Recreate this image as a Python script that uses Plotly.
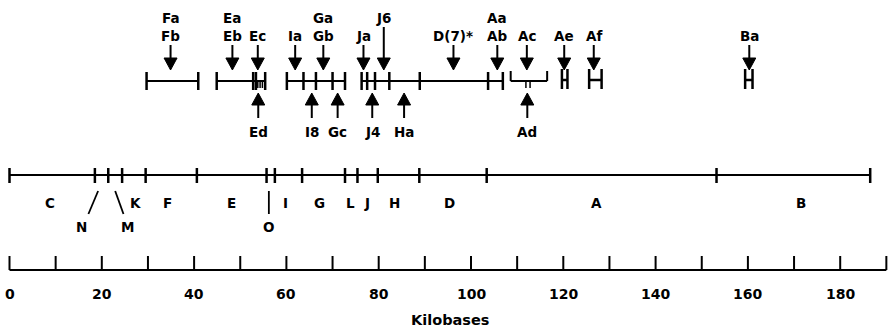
import plotly.graph_objects as go

# ---------------- data (positions in kilobases) ----------------
scale_ticks = list(range(0, 200, 10))
scale_label_values = [0, 20, 40, 60, 80, 100, 120, 140, 160, 180]
scale_end = 190

map_cuts = [0, 18.5, 21.4, 24.4, 29.5, 40.6, 55.7, 57.5, 63.4, 72.7,
            75.4, 79.8, 88.8, 103.4, 153.2, 186.5]

fragment_names = ["C", "K", "F", "E", "I", "G", "L", "J", "H", "D", "A", "B"]
fragment_label_kb = [8.8, 27.2, 34.3, 48.2, 59.9, 67.1, 73.8, 77.5, 83.5,
                     95.4, 127.3, 171.5]

small_fragment_names = ["N", "M", "O"]
small_fragment_label_kb = [15.5, 25.6, 56.2]
small_pointer_top_kb = [19.2, 22.9, 56.2]
small_pointer_bottom_kb = [17.1, 24.7, 56.2]

# sub-clone segments (each a list of cut positions, first/last are ends)
subclone_segments = [
    [29.7, 40.9],
    [44.9, 52.8, 53.4, 55.4],
    [60.1, 63.7, 66.4, 70.0, 72.7],
    [76.3, 77.5, 79.2, 82.3, 88.9, 103.7, 106.9],
]
bracket_segment = [108.6, 116.5]
h_segments = [[119.7, 120.9], [125.6, 128.3], [159.4, 161.0]]
short_marks_kb = [53.8, 54.3, 54.8, 111.9, 112.8]

down_labels = ["Fa<br>Fb", "Ea<br>Eb", "Ec", "Ia", "Ga<br>Gb", "Ja", "J6",
               "D(7)*", "Aa<br>Ab", "Ac", "Ae", "Af", "Ba"]
down_kb = [34.9, 48.3, 53.8, 61.9, 68.0, 76.7, 81.1, 96.2, 105.7, 112.1,
           120.2, 126.6, 160.3]
down_tall = [False, False, False, False, False, False, True, False, False,
             False, False, False, False]

up_labels = ["Ed", "I8", "Gc", "J4", "Ha", "Ad"]
up_kb = [53.9, 65.5, 71.1, 78.6, 85.5, 112.2]

axis_title = "Kilobases"

# ---------------- layout constants (pixels) ----------------
W, H = 889, 328
X0_PX = 9.5
KB_PX = 4.615
FONT = "DejaVu Sans"
LABEL_SIZE = 13.5
TICK_SIZE = 14
TITLE_SIZE = 14.5

TOP_Y = 81
TICK_UP, TICK_DN = 72, 90
H_UP, H_DN, H_MID = 69, 89, 80
BRACKET_UP = 71
SHORT_DN = 88
ROW1_Y, ROW2_Y = 18, 36
DSHAFT_TOP, DSHAFT_TALL, DHEAD_TOP, DHEAD_TIP = 45, 27, 58, 70
UHEAD_TIP, UHEAD_BASE, USHAFT_BOT, UP_LABEL_Y = 93, 105, 118, 132
HEAD_W = 13

MAP_Y, MAP_TICK_UP, MAP_TICK_DN = 175, 168, 183
FRAG_Y, SMALL_Y = 203, 227
PTR_TOP, PTR_BOT = 191, 214

SCALE_Y, SCALE_TICK_UP = 270, 256
SCALE_LABEL_Y, TITLE_Y = 294, 320

hw = HEAD_W / 2 / KB_PX


def seg_lines(pairs):
    xs, ys = [], []
    for (xa, ya, xb, yb) in pairs:
        xs += [xa, xb, None]
        ys += [ya, yb, None]
    return xs, ys


fig = go.Figure()


def add_lines(pairs, width=2):
    xs, ys = seg_lines(pairs)
    fig.add_trace(go.Scatter(x=xs, y=ys, mode="lines",
                             line=dict(color="black", width=width),
                             hoverinfo="skip", showlegend=False))


# ---- scale bar ----
add_lines([(0, SCALE_Y, scale_end, SCALE_Y)], 2)
add_lines([(t, SCALE_TICK_UP, t, SCALE_Y) for t in scale_ticks], 2)

# ---- main map ----
add_lines([(map_cuts[0], MAP_Y, map_cuts[-1], MAP_Y)], 2)
add_lines([(c, MAP_TICK_UP, c, MAP_TICK_DN) for c in map_cuts], 2.5)
add_lines([(t, PTR_TOP, b, PTR_BOT) for t, b in
           zip(small_pointer_top_kb, small_pointer_bottom_kb)], 1.8)

# ---- sub-clone row ----
pairs = []
for seg in subclone_segments:
    pairs.append((seg[0], TOP_Y, seg[-1], TOP_Y))
add_lines(pairs, 2)
ticks = []
for seg in subclone_segments:
    for c in seg:
        ticks.append((c, TICK_UP, c, TICK_DN))
add_lines(ticks, 2.5)
bk = []
bk.append((bracket_segment[0], TOP_Y, bracket_segment[1], TOP_Y))
bk.append((bracket_segment[0], BRACKET_UP, bracket_segment[0], TOP_Y))
bk.append((bracket_segment[1], BRACKET_UP, bracket_segment[1], TOP_Y))
add_lines(bk, 2)
hs = []
for a, b in h_segments:
    hs += [(a, H_UP, a, H_DN), (b, H_UP, b, H_DN), (a, H_MID, b, H_MID)]
add_lines(hs, 2.5)
add_lines([(m, TOP_Y, m, SHORT_DN) for m in short_marks_kb], 1.5)

# ---- arrows ----
shafts = []
for x, tall in zip(down_kb, down_tall):
    shafts.append((x, DSHAFT_TALL if tall else DSHAFT_TOP, x, DHEAD_TOP))
for x in up_kb:
    shafts.append((x, UHEAD_BASE, x, USHAFT_BOT))
add_lines(shafts, 2)

tx, ty = [], []
for x in down_kb:
    tx += [x - hw, x + hw, x, x - hw, None]
    ty += [DHEAD_TOP, DHEAD_TOP, DHEAD_TIP, DHEAD_TOP, None]
for x in up_kb:
    tx += [x - hw, x + hw, x, x - hw, None]
    ty += [UHEAD_BASE, UHEAD_BASE, UHEAD_TIP, UHEAD_BASE, None]
fig.add_trace(go.Scatter(x=tx, y=ty, mode="lines", fill="toself",
                         fillcolor="black", line=dict(color="black", width=1),
                         hoverinfo="skip", showlegend=False))

# ---- text ----
ann = []


def txt(x, y, s, size=LABEL_SIZE, weight="bold"):
    ann.append(dict(x=x, y=y, xref="x", yref="y", text=s, showarrow=False,
                    xanchor="center", yanchor="middle",
                    font=dict(family=FONT, size=size, color="black",
                              weight=weight)))


for lab, x, tall in zip(down_labels, down_kb, down_tall):
    if "<br>" in lab:
        l1, l2 = lab.split("<br>")
        txt(x, ROW1_Y, l1)
        txt(x, ROW2_Y, l2)
    elif tall:
        txt(x, ROW1_Y, lab)
    else:
        txt(x, ROW2_Y, lab)
for lab, x in zip(up_labels, up_kb):
    txt(x, UP_LABEL_Y, lab)
for lab, x in zip(fragment_names, fragment_label_kb):
    txt(x, FRAG_Y, lab)
for lab, x in zip(small_fragment_names, small_fragment_label_kb):
    txt(x, SMALL_Y, lab)
for v in scale_label_values:
    txt(v, SCALE_LABEL_Y, str(v), size=TICK_SIZE)
txt(scale_end / 2 + 0.5, TITLE_Y, axis_title, size=TITLE_SIZE)

fig.update_layout(
    width=W, height=H, margin=dict(l=0, r=0, t=0, b=0),
    paper_bgcolor="white", plot_bgcolor="white",
    xaxis=dict(range=[-X0_PX / KB_PX, (W - X0_PX) / KB_PX], visible=False,
               fixedrange=True),
    yaxis=dict(range=[H, 0], visible=False, fixedrange=True),
    annotations=ann, showlegend=False,
)

fig.write_html(
    "out.html",
    config={"displayModeBar": False},
    post_script="document.body.style.margin='0px';"
                "document.body.style.overflow='hidden';",
)
